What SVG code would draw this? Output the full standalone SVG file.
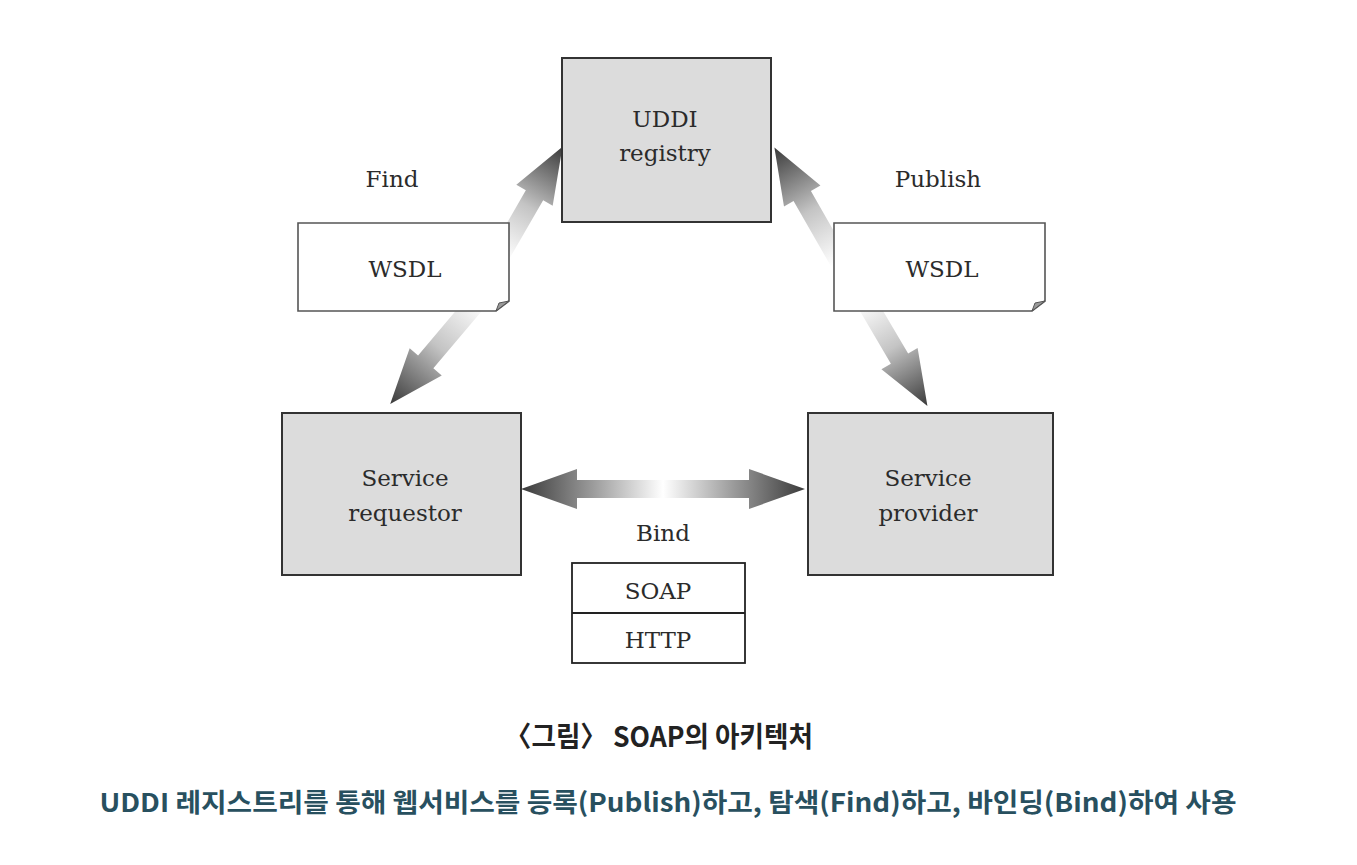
<svg xmlns="http://www.w3.org/2000/svg" width="1357" height="865" viewBox="0 0 1357 865">
<defs>
<linearGradient id="gArrow" x1="0" y1="0" x2="1" y2="0">
<stop offset="0" stop-color="#ffffff"/>
<stop offset="0.45" stop-color="#c4c4c4"/>
<stop offset="1" stop-color="#3a3a3a"/>
</linearGradient>
<linearGradient id="gBind" x1="0" y1="0" x2="1" y2="0">
<stop offset="0" stop-color="#3a3a3a"/>
<stop offset="0.25" stop-color="#9a9a9a"/>
<stop offset="0.5" stop-color="#ffffff"/>
<stop offset="0.75" stop-color="#9a9a9a"/>
<stop offset="1" stop-color="#3a3a3a"/>
</linearGradient>
</defs>
<style>
.box{fill:#dcdcdc;stroke:#333;stroke-width:2}
.doc{fill:#fff;stroke:#555;stroke-width:1.6}
.fold{fill:#9a9a9a;stroke:#555;stroke-width:1}
.plain{fill:#fff;stroke:#222;stroke-width:1.8}
.t{font-family:"DejaVu Serif","Liberation Serif",serif;font-size:23px;fill:#2b2b2b;text-anchor:middle}
.arr{fill:url(#gArrow)}
.cap{font-family:"Noto Sans CJK KR","Noto Sans",sans-serif;font-weight:bold}
</style>
<rect width="1357" height="865" fill="#fff"/>
<g id="connectors">
<g transform="translate(500,255) rotate(-60)">
<polygon class="arr" points="0,-10 69,-10 69,-21 125,0 69,21 69,10 0,10"/>
</g>
<g transform="translate(478,300) rotate(130.2)">
<polygon class="arr" points="0,-10 81,-10 81,-21 136,0 81,21 81,10 0,10"/>
</g>
<g transform="translate(840,262) rotate(240.2)">
<polygon class="arr" points="0,-10 76,-10 76,-21 132,0 76,21 76,10 0,10"/>
</g>
<g transform="translate(865,300) rotate(59.5)">
<polygon class="arr" points="0,-10 68,-10 68,-21 123,0 68,21 68,10 0,10"/>
</g>
<polygon fill="url(#gBind)" points="521,489 577,469 577,480 749,480 749,469 805,489 749,509 749,498 577,498 577,509"/>
</g>
<g id="uddi">
<rect class="box" x="562" y="58" width="209" height="164"/>
<text class="t" x="665" y="127">UDDI</text>
<text class="t" x="665" y="161">registry</text>
</g>
<g id="wsdl-find">
<path class="doc" d="M298,223 H509 V301 L496,311 H298 Z"/>
<polygon class="fold" points="509,301 496,311 499,303"/>
<text class="t" x="405" y="277">WSDL</text>
</g>
<g id="wsdl-publish">
<path class="doc" d="M834,223 H1045 V301 L1032,311 H834 Z"/>
<polygon class="fold" points="1045,301 1032,311 1035,303"/>
<text class="t" x="942" y="277">WSDL</text>
</g>
<g id="label-find"><text class="t" x="392" y="187">Find</text></g>
<g id="label-publish"><text class="t" x="938" y="187">Publish</text></g>
<g id="requestor">
<rect class="box" x="282" y="413" width="239" height="162"/>
<text class="t" x="405" y="486">Service</text>
<text class="t" x="405" y="521">requestor</text>
</g>
<g id="provider">
<rect class="box" x="808" y="413" width="245" height="162"/>
<text class="t" x="928" y="486">Service</text>
<text class="t" x="928" y="521">provider</text>
</g>
<g id="label-bind"><text class="t" x="663" y="541">Bind</text></g>
<g id="protocol">
<rect class="plain" x="572" y="563" width="173" height="100"/>
<line x1="572" y1="613" x2="745" y2="613" stroke="#222" stroke-width="1.8"/>
<text class="t" x="658" y="599">SOAP</text>
<text class="t" x="658" y="648">HTTP</text>
</g>
<g id="caption">
<text class="cap" transform="translate(521,747) scale(0.95,1)" x="-17" y="0" font-size="28" fill="#222">〈그림〉 SOAP의 아키텍처</text>
<text class="cap" x="668" y="812" font-size="26" fill="#28505f" text-anchor="middle" textLength="1137" lengthAdjust="spacingAndGlyphs">UDDI 레지스트리를 통해 웹서비스를 등록(Publish)하고, 탐색(Find)하고, 바인딩(Bind)하여 사용</text>
</g>
</svg>
